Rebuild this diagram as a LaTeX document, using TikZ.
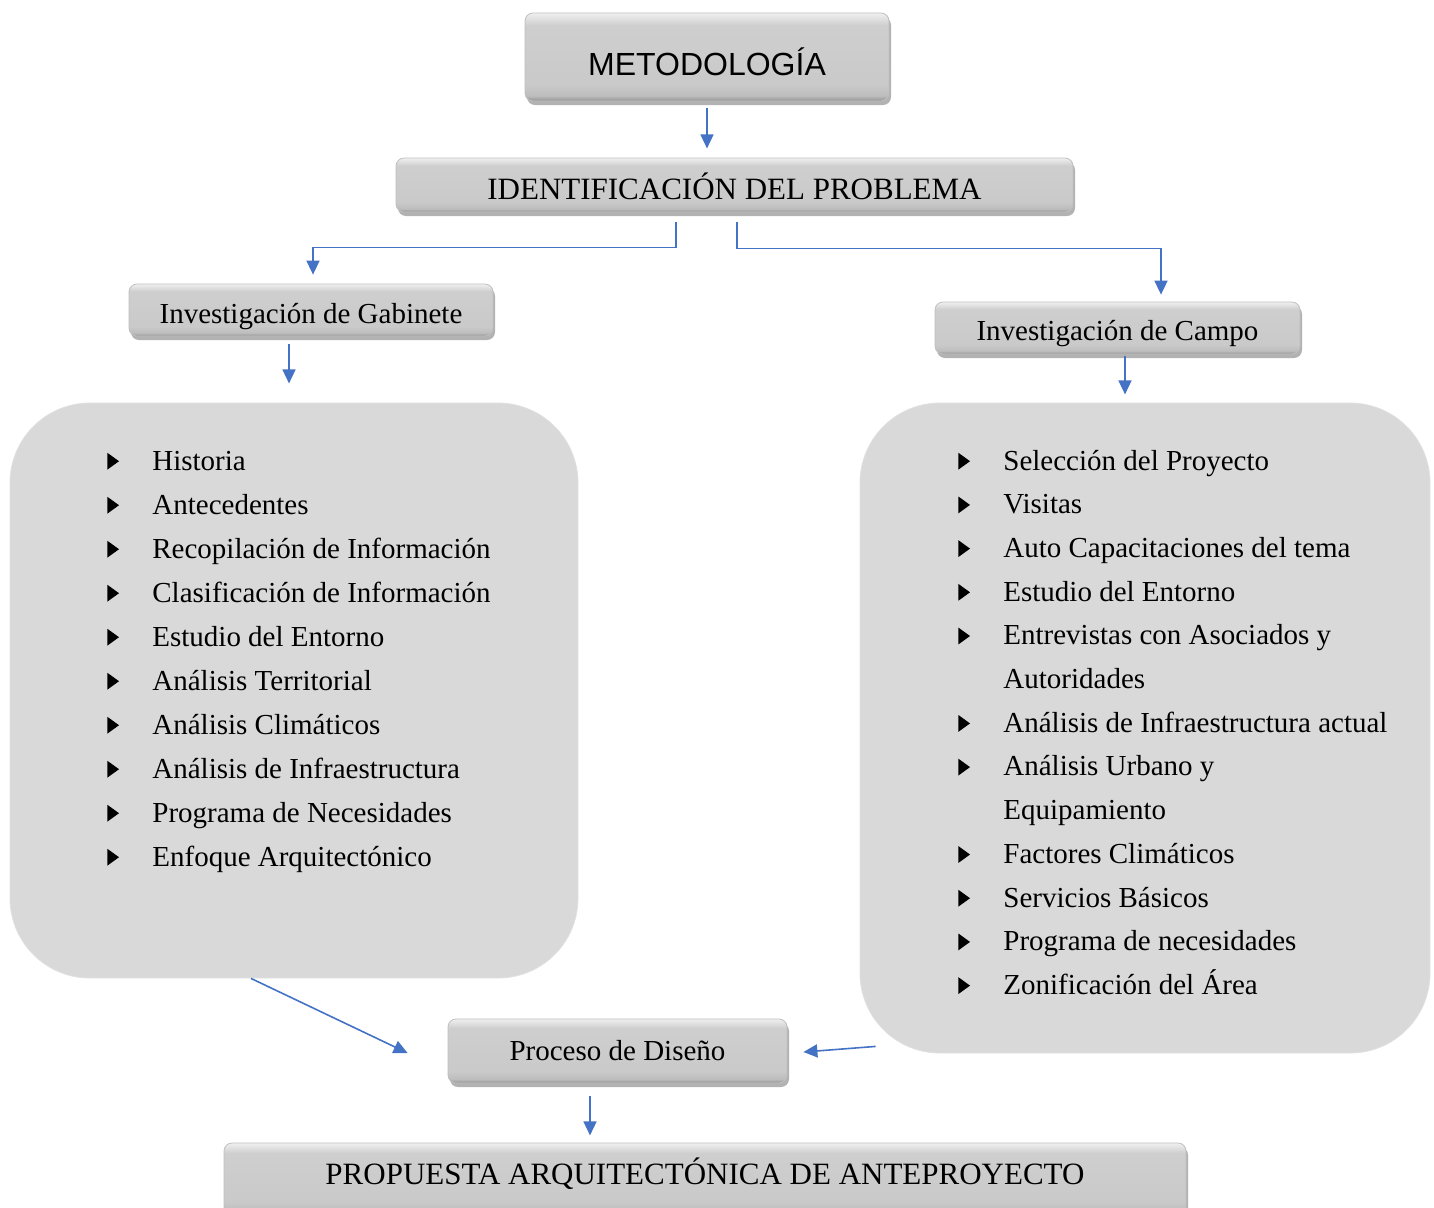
\documentclass[tikz,border=0pt]{standalone}
\usepackage{fontspec}
\setmainfont{Liberation Serif}
\newfontfamily\arialfont{Liberation Sans}
\usetikzlibrary{arrows.meta,shapes,shadows}

\definecolor{arrowblue}{RGB}{68,114,196}
\definecolor{boxgray}{RGB}{217,217,217}

% bevel look of the small boxes (0bp is the bottom edge side)
\pgfdeclareverticalshading{bevel}{100bp}{color(0bp)=(black!42); color(25bp)=(black!42);
  color(28bp)=(black!26); color(34bp)=(black!21); color(68bp)=(black!19); color(75bp)=(black!6); color(100bp)=(black!6)}

\tikzstyle{block} = [rectangle, rounded corners=4pt, draw=black!25, thin, shading=bevel,
    drop shadow={shadow xshift=1pt, shadow yshift=-2pt, opacity=0.3, fill=black},
    text centered, inner sep=0pt, font=\fontsize{14.5}{17}\selectfont]
\tikzstyle{capsblock} = [block, font=\fontsize{15.5}{18}\selectfont]
\tikzstyle{listbox} = [rectangle, rounded corners=40pt, fill=boxgray, draw=black!12]
\tikzstyle{itemlist} = [anchor=base west, inner sep=0pt, font=\fontsize{14.5}{22}\selectfont]
\tikzstyle{arr} = [draw=arrowblue, line width=0.8pt, -{Triangle[width=6.5pt,length=7pt]}]

\newcommand{\bul}{\tikz[baseline=0pt]\fill[black, sharp corners] (0,0.2pt) -- (0,8.6pt) -- (5.8pt,4.4pt) -- cycle;}
\newcommand{\boxtext}[2]{\raisebox{#1}[\height][\depth]{#2}}

\begin{document}
\begin{tikzpicture}[x=0.5pt,y=-0.5pt]
  \useasboundingbox (0,0) rectangle (1434,1207);

  % boxes
  \node[block, minimum width=182pt, minimum height=44pt,
        font=\arialfont\fontsize{16}{18}\selectfont] (metod) at (707,57) {\boxtext{-2.5pt}{METODOLOGÍA}};
  \node[capsblock, minimum width=338.5pt, minimum height=27pt] (ident) at (734.5,185) {\boxtext{-0.5pt}{IDENTIFICACIÓN DEL PROBLEMA}};
  \node[block, minimum width=182pt, minimum height=26pt] (gab) at (311,310) {\boxtext{-3.5pt}{Investigación de Gabinete}};
  \node[block, minimum width=182.5pt, minimum height=26pt] (campo) at (1117.5,328) {\boxtext{-3pt}{Investigación de Campo}};

  \node[listbox, minimum width=284pt, minimum height=287.5pt] (leftbox) at (294,690.5) {};
  \node[listbox, minimum width=285pt, minimum height=325pt] (rightbox) at (1145,728) {};

  \node[block, minimum width=169.5pt, minimum height=32pt] (diseno) at (617.5,1051) {Proceso de Diseño};
  \node[capsblock, minimum width=481pt, minimum height=36pt] (prop) at (705,1179) {\boxtext{2.5pt}{PROPUESTA ARQUITECTÓNICA DE ANTEPROYECTO}};

  % lists
  \node[itemlist] (gablist) at (107,470) {%
    \begin{tabular}[t]{@{}p{22.5pt}@{}l@{}}
      \bul & Historia\\
      \bul & Antecedentes\\
      \bul & Recopilación de Información\\
      \bul & Clasificación de Información\\
      \bul & Estudio del Entorno\\
      \bul & Análisis Territorial\\
      \bul & Análisis Climáticos\\
      \bul & Análisis de Infraestructura\\
      \bul & Programa de Necesidades\\
      \bul & Enfoque Arquitectónico
    \end{tabular}};
  \node[itemlist, font=\fontsize{14.5}{21.85}\selectfont] (campolist) at (958,470) {%
    \begin{tabular}[t]{@{}p{22.5pt}@{}l@{}}
      \bul & Selección del Proyecto\\
      \bul & Visitas\\
      \bul & Auto Capacitaciones del tema\\
      \bul & Estudio del Entorno\\
      \bul & Entrevistas con Asociados y\\
           & Autoridades\\
      \bul & Análisis de Infraestructura actual\\
      \bul & Análisis Urbano y\\
           & Equipamiento\\
      \bul & Factores Climáticos\\
      \bul & Servicios Básicos\\
      \bul & Programa de necesidades\\
      \bul & Zonificación del Área
    \end{tabular}};

  % connectors
  \draw[arr] ([yshift=-3.5pt]metod.south) -- ([yshift=-23.5pt]metod.south);
  \draw[arr] ([xshift=-29.25pt,yshift=-5pt]ident.south) |- ([xshift=1pt,yshift=18pt]gab.north)
             -- ([xshift=1pt,yshift=4.5pt]gab.north);
  \draw[arr] ([xshift=1.25pt,yshift=-5pt]ident.south) |- ([xshift=21.75pt,yshift=26.5pt]campo.north)
             -- ([xshift=21.75pt,yshift=3.5pt]campo.north);
  \draw[arr] ([xshift=-11pt,yshift=-4pt]gab.south) -- ([xshift=-11pt,yshift=-23.5pt]gab.south);
  \draw[arr] ([xshift=3.75pt,yshift=-1pt]campo.south) -- ([xshift=3.75pt,yshift=-20pt]campo.south);
  \draw[arr] ([xshift=-21.5pt]leftbox.south) -- ([xshift=-20pt,yshift=-1pt]diseno.west);
  \draw[arr] ([xshift=8pt,yshift=3.5pt]rightbox.south west) -- ([xshift=8pt,yshift=-0.5pt]diseno.east);
  \draw[arr] ([xshift=-13.75pt,yshift=-6.5pt]diseno.south) -- ([xshift=-13.75pt,yshift=-26pt]diseno.south);
\end{tikzpicture}
\end{document}
